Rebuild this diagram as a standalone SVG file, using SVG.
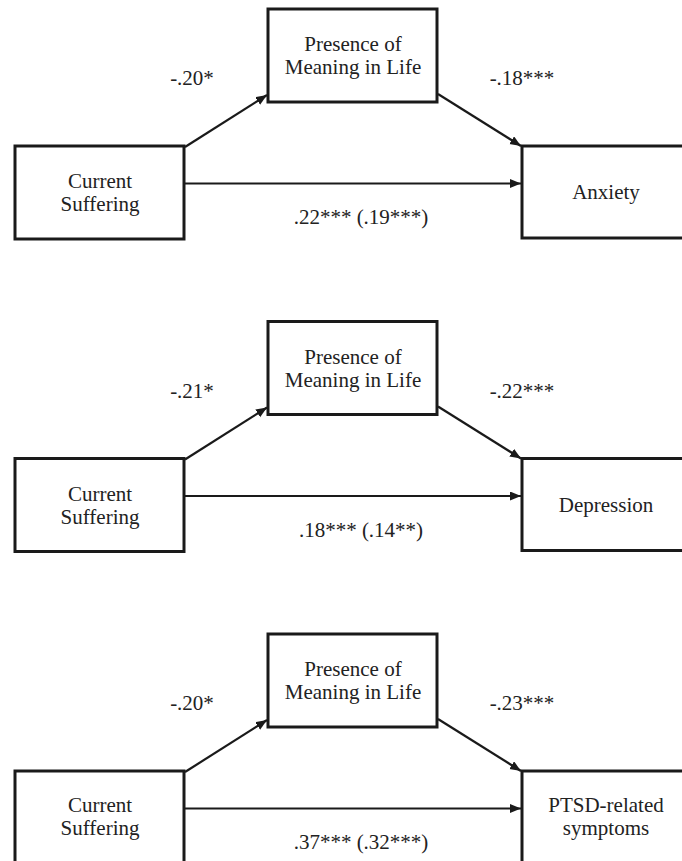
<svg xmlns="http://www.w3.org/2000/svg" width="682" height="861" viewBox="0 0 682 861">
<defs>
<style>
.box{fill:#fff;stroke:#1a1a1a;stroke-width:3}
.t{font-family:'Liberation Serif',Tinos,'Times New Roman',Times,'DejaVu Serif',serif;font-size:21px;fill:#222;text-anchor:middle}
.c{stroke:#1a1a1a;stroke-width:2.2;fill:none;marker-end:url(#ah)}
</style>
<marker id="ah" markerUnits="userSpaceOnUse" markerWidth="12" markerHeight="10" refX="11" refY="4.5" orient="auto">
<path d="M0,0 L11,4.5 L0,9 z" fill="#1a1a1a"/>
</marker>
</defs>
<rect width="682" height="861" fill="#fff"/>

<!-- Panel 1 -->
<g id="p1" font-family="Liberation Serif, Times New Roman, serif">
<g id="connectors1">
<line class="c" x1="185" y1="147" x2="267" y2="95"/>
<line class="c" x1="438" y1="94" x2="521" y2="146"/>
<line class="c" x1="185" y1="183.5" x2="521" y2="183.5"/>
<text class="t" x="192" y="85">-.20*</text>
<text class="t" x="522" y="85">-.18***</text>
<text class="t" x="361" y="224">.22*** (.19***)</text>
</g>
<g id="med1">
<rect class="box" x="268" y="9" width="169" height="93"/>
<text class="t" x="353" y="51">Presence of</text>
<text class="t" x="353" y="74">Meaning in Life</text>
</g>
<g id="cs1">
<rect class="box" x="15" y="146" width="169" height="93"/>
<text class="t" x="100" y="188">Current</text>
<text class="t" x="100" y="211">Suffering</text>
</g>
<g id="anx">
<rect class="box" x="522" y="146" width="170" height="92"/>
<text class="t" x="606" y="199">Anxiety</text>
</g>
</g>

<!-- Panel 2 -->
<g id="p2" transform="translate(0,312.5)">
<g id="connectors2">
<line class="c" x1="185" y1="147" x2="267" y2="95"/>
<line class="c" x1="438" y1="94" x2="521" y2="146"/>
<line class="c" x1="185" y1="183.5" x2="521" y2="183.5"/>
<text class="t" x="192" y="85">-.21*</text>
<text class="t" x="522" y="85">-.22***</text>
<text class="t" x="361" y="224">.18*** (.14**)</text>
</g>
<g id="med2">
<rect class="box" x="268" y="9" width="169" height="93"/>
<text class="t" x="353" y="51">Presence of</text>
<text class="t" x="353" y="74">Meaning in Life</text>
</g>
<g id="cs2">
<rect class="box" x="15" y="146" width="169" height="93"/>
<text class="t" x="100" y="188">Current</text>
<text class="t" x="100" y="211">Suffering</text>
</g>
<g id="dep">
<rect class="box" x="522" y="146" width="170" height="92"/>
<text class="t" x="606" y="199">Depression</text>
</g>
</g>

<!-- Panel 3 -->
<g id="p3" transform="translate(0,625)">
<g id="connectors3">
<line class="c" x1="185" y1="147" x2="267" y2="95"/>
<line class="c" x1="438" y1="94" x2="521" y2="146"/>
<line class="c" x1="185" y1="183.5" x2="521" y2="183.5"/>
<text class="t" x="192" y="85">-.20*</text>
<text class="t" x="522" y="85">-.23***</text>
<text class="t" x="361" y="224">.37*** (.32***)</text>
</g>
<g id="med3">
<rect class="box" x="268" y="9" width="169" height="93"/>
<text class="t" x="353" y="51">Presence of</text>
<text class="t" x="353" y="74">Meaning in Life</text>
</g>
<g id="cs3">
<rect class="box" x="15" y="146" width="169" height="93"/>
<text class="t" x="100" y="187">Current</text>
<text class="t" x="100" y="210">Suffering</text>
</g>
<g id="ptsd">
<rect class="box" x="522" y="146" width="170" height="92"/>
<text class="t" x="606" y="187">PTSD-related</text>
<text class="t" x="606" y="210">symptoms</text>
</g>
</g>
</svg>
